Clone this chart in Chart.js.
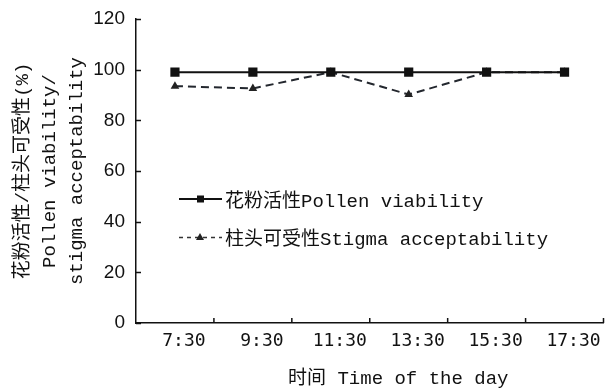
<!DOCTYPE html>
<html><head><meta charset="utf-8">
<script src="https://cdn.jsdelivr.net/npm/chart.js@4.4.0/dist/chart.umd.min.js"></script>
<style>
html,body{margin:0;padding:0;background:#fff;}
#wrap{position:relative;width:610px;height:390px;}
#legend{position:absolute;left:178px;top:180px;font-family:"Liberation Mono","Noto Sans CJK SC",monospace;font-size:19px;color:#111;}
.row{display:flex;align-items:center;height:38px;}
.row svg{margin-right:2px;}
</style></head>
<body><div id="wrap"><canvas id="c" width="610" height="390"></canvas>
<div id="legend">
<div class="row"><svg width="45" height="14"><line x1="1" y1="7" x2="44" y2="7" stroke="#111" stroke-width="2"/><rect x="19" y="3.5" width="7" height="7" fill="#111"/></svg><span>花粉活性Pollen viability</span></div>
<div class="row"><svg width="45" height="14"><line x1="1" y1="7.5" x2="44" y2="7.5" stroke="#333" stroke-width="1.5" stroke-dasharray="4,4"/><polygon points="22,3 26,10 18,10" fill="#222"/></svg><span>柱头可受性Stigma acceptability</span></div>
</div></div>
<script>
const categories = ["7:30","9:30","11:30","13:30","15:30","17:30"];
const pollenViability = [99,99,99,99,99,99];
const stigmaAcceptability = [93.5,92.6,99,90.2,99,99];
const yTicks = [0,20,40,60,80,100,120];

const inwardTicks = {
  id:'inwardTicks',
  afterDraw(chart){
    const ctx=chart.ctx, x=chart.scales.x, y=chart.scales.y;
    ctx.save();ctx.strokeStyle='#111';ctx.lineWidth=1.5;
    ctx.beginPath();
    yTicks.forEach(v=>{const py=Math.round(y.getPixelForValue(v))+0.5;ctx.moveTo(x.left,py);ctx.lineTo(x.left+5,py);});
    const half=(x.getPixelForValue(1)-x.getPixelForValue(0))/2;
    categories.forEach((c,i)=>{const px=x.getPixelForValue(i)+half;ctx.moveTo(px,y.bottom);ctx.lineTo(px,y.bottom-5);});
    ctx.stroke();ctx.restore();
  }
};

new Chart(document.getElementById('c'),{
  type:'line',
  data:{labels:categories,datasets:[
    {label:'花粉活性Pollen viability',data:pollenViability,borderColor:'#111',backgroundColor:'#111',borderWidth:2,pointStyle:'rect',pointRadius:6.5,pointBorderWidth:0,tension:0},
    {label:'柱头可受性Stigma acceptability',data:stigmaAcceptability,borderColor:'#23272e',backgroundColor:'#222',borderWidth:2,borderDash:[8,5],pointStyle:'triangle',pointRadius:5,pointBorderWidth:0,tension:0}
  ]},
  options:{
    responsive:false,animation:false,
    layout:{padding:{top:0,right:3,left:0,bottom:0}},
    plugins:{legend:{display:false},tooltip:{enabled:false}},
    scales:{
      x:{offset:true,
        grid:{display:false,drawTicks:false},
        border:{display:true,color:'#111',width:1.5},
        ticks:{color:'#111',font:{family:'"DejaVu Sans Mono","Liberation Mono",monospace',size:18},padding:8,labelOffset:9,maxRotation:0},
        title:{display:true,text:'     时间 Time of the day',color:'#111',font:{family:'"Liberation Mono","Noto Sans CJK SC",monospace',size:19},padding:{top:2,bottom:0}},
        afterFit(s){s.height=67;}
      },
      y:{min:0,max:120,
        afterBuildTicks(s){s.ticks=yTicks.map(v=>({value:v}));},
        grid:{display:false,drawTicks:false},
        border:{display:true,color:'#111',width:1.5},
        ticks:{color:'#111',font:{family:'"Liberation Sans",Arial,sans-serif',size:19},padding:11},
        title:{display:true,text:['花粉活性/柱头可受性(%)','Pollen viability/','stigma acceptability'],color:'#111',font:{family:'"Liberation Mono","Noto Sans CJK SC",monospace',size:19,lineHeight:1.4},padding:{top:10,bottom:6}},
        afterFit(s){s.width=136;s.paddingTop=19;}
      }
    }
  },
  plugins:[inwardTicks]
});
</script></body></html>
